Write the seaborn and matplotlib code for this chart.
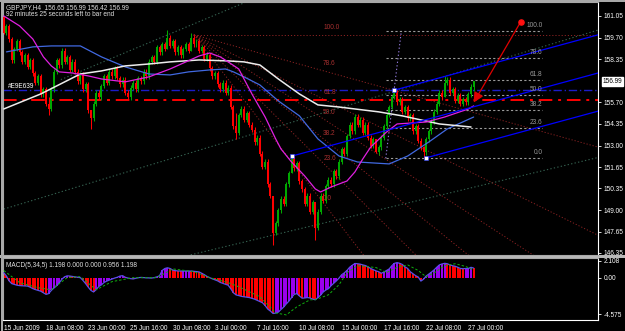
import numpy as np
import pandas as pd
import matplotlib
matplotlib.use("Agg")
import matplotlib.pyplot as plt
import seaborn as sns
from matplotlib.transforms import blended_transform_factory
from matplotlib.patches import Rectangle

sns.set_style("dark")
plt.rcParams['font.family'] = ['Liberation Sans', 'DejaVu Sans']

# ---------------- data (GBPJPY H4) ----------------
first_open = 161.00
closes = [
    160.00, 160.40, 159.60, 158.30, 159.00, 159.50, 158.80, 158.20, 158.60, 157.90,
    158.30, 157.50, 156.90, 157.30, 156.20, 156.50, 155.60, 155.30, 156.50, 157.60,
    158.30, 158.00, 158.90, 158.20, 158.50, 157.70, 158.20, 157.60, 157.00, 157.40,
    156.50, 156.80, 155.20, 154.70, 155.60, 156.30, 156.00, 156.70, 157.30, 156.90,
    157.60, 157.30, 157.80, 157.20, 156.80, 157.10, 156.30, 156.00, 156.60, 156.90,
    156.50, 157.20, 157.00, 157.60, 157.30, 158.20, 158.50, 158.20, 159.10, 158.80,
    159.30, 159.00, 159.70, 159.20, 159.50, 158.80, 159.10, 158.60, 159.00, 159.30,
    158.90, 159.70, 159.30, 159.50, 158.90, 159.10, 158.40, 158.60, 157.80, 157.30,
    157.50, 156.80, 156.50, 156.90, 156.30, 156.60, 155.40, 154.20, 153.80, 154.90,
    155.30, 154.60, 155.00, 154.30, 154.00, 153.20, 153.50, 152.50, 151.70, 152.00,
    150.60, 149.90, 147.60, 148.20, 149.00, 149.70, 149.40, 150.60, 151.30, 152.20,
    151.60, 151.90, 150.80, 150.30, 149.40, 149.90, 148.90, 149.50, 147.90, 148.90,
    149.90, 149.60, 150.50, 150.90, 150.60, 151.40, 151.10, 152.00, 152.80, 152.50,
    153.60, 154.30, 153.90, 154.80, 154.30, 154.60, 153.80, 154.30, 153.50, 153.00,
    153.40, 152.60, 152.90, 153.50, 154.20, 154.90, 155.40, 156.00, 156.30, 155.70,
    155.90, 155.10, 155.40, 154.70, 154.90, 153.90, 154.20, 153.30, 152.90, 152.60,
    153.40, 153.90, 154.50, 155.10, 155.60, 156.30, 156.00, 156.90, 157.10, 156.30,
    156.50, 155.80, 156.10, 155.60, 155.90, 155.70, 156.20, 156.65, 156.99,
]
# notable wick extremes: bar -> (high, low)
wick_extremes = {
    0: (161.05, 159.90), 17: (156.00, 154.90), 33: (155.20, 154.05),
    62: (160.15, 159.40), 71: (160.00, 159.10), 88: (155.00, 153.40),
    102: (149.90, 146.85), 109: (152.40, 151.70), 118: (149.00, 147.15),
    141: (153.20, 152.55), 148: (156.50, 155.90), 159: (153.00, 152.25),
    167: (157.35, 156.60), 178: (156.99, 156.42),
}
default_wick = 0.15

# moving averages (sampled bar index, price)
ma_slow_bar = [0, 14, 29, 37, 46, 55, 63, 74, 85, 91, 97, 104, 112, 119, 127, 136, 142, 151, 158, 165, 177]
ma_slow = [155.28, 156.21, 157.45, 157.64, 157.95, 158.07, 158.20, 158.32, 158.26, 158.20, 158.01,
           157.14, 156.21, 155.53, 155.40, 155.22, 155.10, 154.85, 154.60, 154.35, 154.16]
ma_mid_bar = [1, 11, 18, 29, 37, 46, 55, 63, 70, 78, 84, 87, 91, 97, 104, 112, 119, 127, 134, 146, 153, 161, 168, 178]
ma_mid = [158.82, 159.13, 159.19, 159.19, 158.51, 157.89, 157.45, 157.39, 157.58, 157.70, 157.76, 157.58,
          157.27, 156.77, 155.78, 154.85, 153.42, 152.36, 151.99, 151.87, 152.36, 153.23, 154.04, 154.78]
ma_fast_bar = [0, 6, 11, 15, 18, 21, 26, 32, 37, 46, 55, 63, 69, 74, 78, 82, 85, 89, 94, 99, 103, 105,
               109, 114, 118, 120, 124, 130, 133, 136, 139, 145, 149, 160, 167, 176, 178]
ma_fast = [161.05, 160.43, 159.62, 158.51, 157.95, 157.58, 157.51, 157.33, 157.14, 156.96, 157.27,
           157.76, 158.20, 158.57, 158.75, 158.51, 158.20, 157.76, 156.21, 154.78, 153.42, 152.80,
           151.99, 151.12, 150.32, 150.13, 150.44, 150.81, 151.37, 152.18, 152.92, 153.85, 154.35,
           154.47, 154.78, 155.28, 155.47]

# MACD(5,34,5) histogram per bar and signal line samples
macd = [
    0.62, 0.20, -0.40, -0.75, -0.85, -0.95, -1.00, -1.02, -1.05, -1.06,
    -1.20, -1.38, -1.50, -1.60, -1.70, -1.90, -2.10, -2.00, -1.60, -1.30,
    -1.00, -0.65, -0.20, 0.10, 0.23, 0.20, 0.15, 0.10, 0.05, 0.00,
    -0.35, -0.75, -1.20, -1.60, -1.80, -1.50, -1.10, -0.90, -0.60, -0.43,
    -0.30, -0.16, -0.05, 0.05, 0.20, 0.25, 0.05, -0.05, -0.12, -0.16,
    -0.08, 0.00, 0.03, 0.00, -0.02, -0.03, -0.05, 0.00, 0.10, 0.23,
    0.90, 1.15, 1.24, 1.15, 0.95, 0.88, 0.84, 0.83, 0.83, 0.83,
    0.84, 0.83, 0.80, 0.76, 0.72, 0.55, 0.37, 0.15, 0.00, -0.15,
    -0.27, -0.40, -0.60, -0.72, -0.85, -0.95, -1.40, -1.90, -2.17, -2.25,
    -2.35, -2.40, -2.45, -2.50, -2.60, -2.70, -2.85, -3.00, -3.15, -3.50,
    -3.95, -4.20, -4.50, -4.45, -4.33, -4.00, -3.70, -3.30, -2.95, -2.50,
    -2.10, -2.00, -2.30, -2.58, -2.55, -2.50, -2.55, -2.70, -2.77, -2.50,
    -2.20, -1.80, -1.55, -1.38, -1.00, -0.70, -0.40, -0.05, 0.37, 0.60,
    0.90, 1.30, 1.55, 1.78, 1.75, 1.70, 1.60, 1.52, 1.35, 1.15,
    1.00, 0.85, 0.74, 0.55, 0.70, 0.90, 1.10, 1.50, 1.80, 1.89,
    1.80, 1.65, 1.35, 1.15, 0.74, 0.50, 0.25, 0.09, -0.43, -0.20,
    0.20, 0.45, 0.70, 0.97, 1.30, 1.60, 1.72, 1.80, 1.75, 1.60,
    1.50, 1.43, 1.30, 1.15, 1.12, 1.15, 1.15, 1.30, 1.20,
]
signal_bar = [0, 6, 13, 18, 24, 29, 35, 41, 49, 58, 64, 72, 78, 85, 89, 97, 103, 107, 111, 116,
              118, 123, 127, 130, 134, 141, 145, 149, 153, 157, 160, 163, 167, 171, 175, 178]
signal = [0.90, -0.63, -1.27, -1.52, 0.00, 0.13, -1.52, -0.50, 0.00, 0.00, 1.10, 0.76, 0.00, -0.63,
          -1.14, -2.40, -4.43, -4.68, -3.67, -2.78, -2.78, -2.15, -0.89, 0.63, 1.50, 1.27, 0.63,
          1.30, 1.60, 0.90, 0.10, 0.60, 1.50, 1.75, 1.40, 0.96]

# drawn objects (bar index, price)
hline_blue = 156.44
hline_red = 155.86
pitchfork = [(109, 152.35), (148, 156.45), (160, 152.25)]
fib_retr_start, fib_retr_end = (144.7, 152.22), (150.6, 160.12)
fib_retr_right = 204
fib_levels = [0.0, 23.6, 38.2, 50.0, 61.8, 78.6, 100.0]
fan_origin = (72, 159.88)
fan_base = (122, 149.25)
green_lines = [((21.6, 157.10), (91.7, 161.91)), ((0, 149.07), (225.4, 160.19)), ((70.8, 146.23), (225.4, 152.28))]
arrow_from, arrow_to = (195.8, 160.68), (178, 155.68)
price_ticks = [161.05, 159.70, 158.35, 155.70, 154.35, 153.00, 151.65, 150.35, 149.00, 147.65, 146.35]
macd_ticks = [2.108, 0.0, -4.575]
macd_tick_labels = ["2.108", "0.00", "-4.575"]
time_tick_bars = [0, 16, 32, 48, 64, 80, 96, 112, 128, 144, 160, 176]
time_tick_labels = ["15 Jun 2009", "18 Jun 08:00", "23 Jun 00:00", "25 Jun 16:00", "30 Jun 08:00",
                    "3 Jul 00:00", "7 Jul 16:00", "10 Jul 08:00", "15 Jul 00:00", "17 Jul 16:00",
                    "22 Jul 08:00", "27 Jul 00:00"]
header1 = "GBPJPY,H4  156.65 156.99 156.42 156.99"
header2 = "92 minutes 25 seconds left to bar end"
macd_header = "MACD(5,34,5) 1.198 0.000 0.000 0.956 1.198"
last_price = 156.99

# ---------------- figure ----------------
W, H = 625, 331
fig = plt.figure(figsize=(W / 100, H / 100), dpi=100, facecolor="black")

def rect(x0, y0, x1, y1):
    return [x0 / W, 1 - y1 / H, (x1 - x0) / W, (y1 - y0) / H]

ax1 = fig.add_axes(rect(3, 2, 598, 255))
ax2 = fig.add_axes(rect(3, 258, 598, 320))
XMIN, XMAX = -0.3, 225.1
FS = 4.7
for ax in (ax1, ax2):
    ax.set_facecolor("black")
    ax.set_xlim(XMIN, XMAX)
    ax.grid(False)
    for s in ax.spines.values():
        s.set_color("#a8a8a8")
        s.set_linewidth(0.8)
    ax.spines["right"].set_color("white")

ax1.set_ylim(146.22, 161.915)
ax2.set_ylim(-5.32, 2.47)

# candles
bars = np.arange(len(closes))
opens = [first_open] + closes[:-1]
highs, lows = [], []
for i, (o, c) in enumerate(zip(opens, closes)):
    hi, lo = wick_extremes.get(i, (max(o, c) + default_wick, min(o, c) - default_wick))
    highs.append(max(hi, o, c))
    lows.append(min(lo, o, c))
cols = ["#00a800" if c >= o else "#ff0000" for o, c in zip(opens, closes)]
ax1.vlines(bars, lows, highs, colors=cols, linewidth=0.75, zorder=3)
bottoms = [min(o, c) for o, c in zip(opens, closes)]
heights = [max(abs(c - o), 0.03) for o, c in zip(opens, closes)]
ax1.bar(bars, heights, bottom=bottoms, width=0.75, color=cols, linewidth=0, zorder=3)

# moving averages
sns.lineplot(x=ma_mid_bar, y=ma_mid, ax=ax1, color="#4169e1", linewidth=0.9, sort=False, zorder=4)
sns.lineplot(x=ma_slow_bar, y=ma_slow, ax=ax1, color="#ececec", linewidth=1.1, sort=False, zorder=4)
sns.lineplot(x=ma_fast_bar, y=ma_fast, ax=ax1, color="#e020e0", linewidth=0.9, sort=False, zorder=4)

# horizontal lines
ax1.axhline(hline_blue, color="#1c1cc8", linewidth=1.0, linestyle=(0, (6, 2, 1, 2)), zorder=2)
ax1.axhline(hline_red, color="#ff0000", linewidth=1.4, linestyle=(0, (7, 3, 1.5, 3)), zorder=2)

# green dotted trend lines
for (a, b) in green_lines:
    ax1.plot([a[0], b[0]], [a[1], b[1]], color="#34604f", linewidth=0.8, linestyle=(0, (1.2, 2)), zorder=1)

# red fibonacci fan
ox, oy = fan_origin
bx, by = fan_base
for lv in fib_levels:
    ty = by + lv / 100.0 * (oy - by)
    slope = (ty - oy) / (bx - ox)
    ax1.plot([ox, XMAX + 5], [oy, oy + slope * (XMAX + 5 - ox)], color="#8b2222",
             linewidth=0.7, linestyle=(0, (1.2, 2)), zorder=1)
    ax1.text(bx - 1, ty + 0.25, f"{lv:.1f}", color="#a83030", fontsize=FS, ha="left", va="bottom", zorder=5)

# gray fibonacci retracement
(sx, sy), (ex, ey) = fib_retr_start, fib_retr_end
ax1.plot([sx, ex], [sy, ey], color="#9078d8", linewidth=0.8, linestyle=(0, (1.2, 2)), zorder=2)
for lv in fib_levels:
    ly = sy + lv / 100.0 * (ey - sy)
    ax1.plot([sx, fib_retr_right], [ly, ly], color="#9a9a9a", linewidth=0.8, linestyle=(0, (2, 2)), zorder=2)
    ax1.text(fib_retr_right, ly + 0.12, f"{lv:.1f}", color="#9a9a9a", fontsize=FS, ha="right", va="bottom", zorder=5)

# Andrews pitchfork
(p1x, p1y), (p2x, p2y), (p3x, p3y) = pitchfork
mx, my = (p2x + p3x) / 2, (p2y + p3y) / 2
pf_slope = (my - p1y) / (mx - p1x)
for (axx, ayy) in pitchfork:
    ax1.plot([axx, XMAX + 5], [ayy, ayy + pf_slope * (XMAX + 5 - axx)], color="#0000ff", linewidth=0.9, zorder=4)
ax1.scatter([p[0] for p in pitchfork], [p[1] for p in pitchfork], marker="s", s=5,
            facecolor="white", edgecolor="#2030ff", linewidth=0.4, zorder=6)

# red arrow
ax1.annotate("", xy=arrow_to, xytext=arrow_from,
             arrowprops=dict(arrowstyle="-|>,head_length=0.6,head_width=0.3", color="#e00000", lw=0.9,
                             shrinkA=0, shrinkB=0), zorder=6)
ax1.scatter([arrow_from[0]], [arrow_from[1]], s=14, color="#ff1010", zorder=6)

# MACD panel
mcols = ["#9a00ee" if (i > 0 and v >= macd[i - 1]) else "#ff0000" for i, v in enumerate(macd)]
ax2.bar(bars, macd, width=0.75, color=mcols, linewidth=0, zorder=2)
sns.lineplot(x=bars, y=macd, ax=ax2, color="#5a4fe8", linewidth=0.9, zorder=3)
sns.lineplot(x=signal_bar, y=signal, ax=ax2, color="#10b010", linewidth=0.7, zorder=4)
ax2.lines[-1].set_linestyle((0, (2.5, 2)))

# ticks
ax1.yaxis.tick_right()
ax1.set_yticks(price_ticks)
ax1.set_yticklabels([f"{t:.2f}" for t in price_ticks])
ax1.set_xticks([])
ax1.tick_params(axis="y", colors="white", labelsize=FS, length=2, width=0.6, pad=2)
ax2.yaxis.tick_right()
ax2.set_yticks(macd_ticks)
ax2.set_yticklabels(macd_tick_labels)
ax2.tick_params(axis="y", colors="white", labelsize=FS, length=2, width=0.6, pad=2)
ax2.set_xticks(time_tick_bars)
ax2.set_xticklabels(time_tick_labels)
ax2.tick_params(axis="x", colors="white", labelsize=FS, length=3, width=0.6, pad=0.5)
for lab in ax2.get_xticklabels():
    lab.set_ha("left")
for ax in (ax1, ax2):
    ax.set_xlabel("")
    ax.set_ylabel("")

# current price box
tr = blended_transform_factory(ax1.transAxes, ax1.transData)
ax1.text(1.008, last_price, f"{last_price:.2f}", transform=tr, fontsize=FS, color="black", ha="left",
         va="center", bbox=dict(facecolor="white", edgecolor="white", pad=0.5), zorder=10, clip_on=False)

# texts
fig.text(6 / W, 1 - 4 / H, header1, color="#e0e0e0", fontsize=FS, ha="left", va="top", zorder=30)
fig.text(6 / W, 1 - 11 / H, header2, color="#e0e0e0", fontsize=FS, ha="left", va="top", zorder=30)
ax1.text(1.5, 156.66, "#E9E639", color="white", fontsize=FS, ha="left", va="center", zorder=6)
ax2.text(0.005, 0.93, macd_header, transform=ax2.transAxes, color="#e0e0e0", fontsize=FS,
         ha="left", va="top", zorder=6)

# frame bands (behind axes content)
fig.patches.append(Rectangle((0, 1 - 258 / H), 1, 3 / H, transform=fig.transFigure,
                             facecolor="#b8b8b8", edgecolor="none", zorder=-1))
fig.patches.append(Rectangle((0, 1 - 2 / H), 1, 2 / H, transform=fig.transFigure,
                             facecolor="#a8a8a8", edgecolor="none", zorder=-1))
fig.patches.append(Rectangle((1 / W, 0), 2 / W, 1, transform=fig.transFigure,
                             facecolor="#a8a8a8", edgecolor="none", zorder=-1))
ax2.spines["bottom"].set_color("white")

fig.savefig("out.png", dpi=100, facecolor="black")
